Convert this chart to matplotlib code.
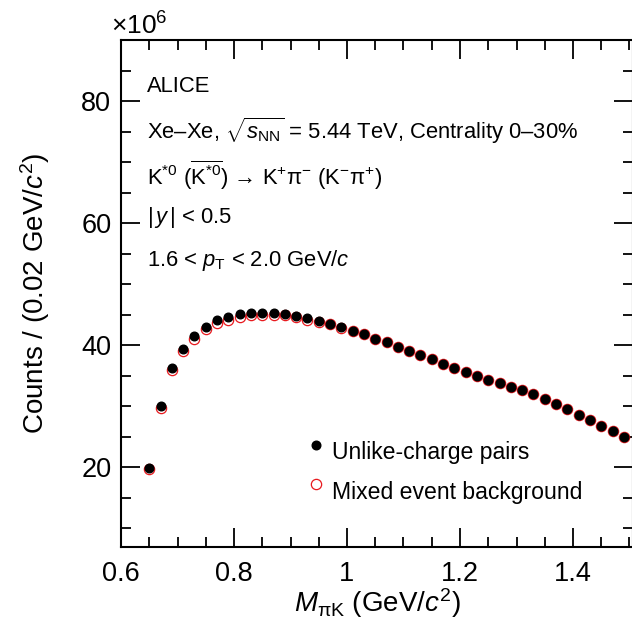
import numpy as np
import matplotlib
matplotlib.use("Agg")
import matplotlib.pyplot as plt
from matplotlib.ticker import MultipleLocator

plt.rcParams["font.family"] = ["Liberation Sans", "DejaVu Sans"]
plt.rcParams["mathtext.fontset"] = "custom"
plt.rcParams["mathtext.rm"] = "Liberation Sans"
plt.rcParams["mathtext.it"] = "Liberation Sans:italic"
plt.rcParams["mathtext.bf"] = "Liberation Sans:bold"

# Datos (cuentas en unidades de 10^6)
masa = np.round(np.arange(0.65, 1.50, 0.02), 2)
pares_unlike = [19.9, 30.0, 36.3, 39.4, 41.5, 43.0, 44.1, 44.6, 45.1, 45.3, 45.3,
                45.3, 45.1, 44.8, 44.4, 43.9, 43.5, 43.0, 42.3, 41.8, 41.1, 40.5,
                39.7, 39.1, 38.4, 37.7, 36.9, 36.2, 35.6, 34.9, 34.3, 33.8, 33.2,
                32.7, 32.0, 31.2, 30.4, 29.5, 28.6, 27.7, 26.8, 26.0, 25.0]
fondo_mixed = [19.8, 29.7, 36.0, 39.0, 41.1, 42.6, 43.7, 44.2, 44.7, 44.9, 45.0,
               45.0, 44.9, 44.6, 44.2, 43.8, 43.4, 42.9, 42.3, 41.8, 41.1, 40.5,
               39.7, 39.1, 38.4, 37.7, 36.9, 36.2, 35.6, 34.9, 34.3, 33.8, 33.2,
               32.7, 32.0, 31.2, 30.4, 29.5, 28.6, 27.7, 26.8, 26.0, 25.0]

fig = plt.figure(figsize=(6.32, 6.21), dpi=100)
ax = fig.add_axes([121 / 632, 74.3 / 621, 512 / 632, 506.7 / 621])

ax.plot(masa, fondo_mixed, "o", mfc="white", mec="#e8191e", mew=0.9, ms=7.4, linestyle="none")
ax.plot(masa, pares_unlike, "o", color="black", ms=6.2, linestyle="none")

ax.set_xlim(0.6, 0.6 + 512 / 565)
ax.set_ylim(7, 90)
ax.xaxis.set_major_locator(MultipleLocator(0.2))
ax.xaxis.set_minor_locator(MultipleLocator(0.05))
ax.yaxis.set_major_locator(MultipleLocator(20))
ax.yaxis.set_minor_locator(MultipleLocator(5))
ax.set_xticks([0.6, 0.8, 1.0, 1.2, 1.4])
ax.set_xticklabels(["0.6", "0.8", "1", "1.2", "1.4"])
ax.set_yticks([20, 40, 60, 80])

ax.tick_params(which="both", direction="in", top=True, right=True, width=1.3, labelsize=19.5)
ax.tick_params(which="major", length=14)
ax.tick_params(which="minor", length=7)
ax.tick_params(axis="x", pad=10)
ax.tick_params(axis="y", pad=7)
for s in ax.spines.values():
    s.set_linewidth(1.5)

ax.set_xlabel(r"$M_{\mathrm{\pi K}}$ (GeV/$c^{2}$)", fontsize=20, labelpad=0)
ax.set_ylabel(r"Counts / (0.02 GeV/$c^{2}$)", fontsize=20, labelpad=21)
ax.text(-0.02, 1.0, r"$\times$10$^{6}$", transform=ax.transAxes, fontsize=19, va="bottom", ha="left")

# Textos de la figura
tx = 147
lineas = [
    (87, "ALICE"),
    (131, r"Xe–Xe, $\sqrt{s_{\mathrm{NN}}}$ = 5.44 TeV, Centrality 0–30%"),
    (175, r"K$^{*0}$ ($\overline{\mathrm{K}^{*0}}$) → K$^{+}\mathrm{\pi}^{-}$ (K$^{-}\mathrm{\pi}^{+}$)"),
    (218, r"$|\,y\,|$ < 0.5"),
    (260, r"1.6 < $p_{\mathrm{T}}$ < 2.0 GeV/$c$"),
]
for y, t in lineas:
    fig.text(tx / 632, 1 - y / 621, t, fontsize=15.8, va="center", ha="left")

# Leyenda
ax.plot([0.945], [23.6], "o", color="black", ms=6.2)
ax.plot([0.945], [17.3], "o", mfc="white", mec="#e8191e", mew=0.9, ms=7.4)
fig.text(332 / 632, 1 - 453 / 621, "Unlike-charge pairs", fontsize=16.6, va="center")
fig.text(332 / 632, 1 - 492 / 621, "Mixed event background", fontsize=16.6, va="center")

fig.savefig("out.png", dpi=100)
